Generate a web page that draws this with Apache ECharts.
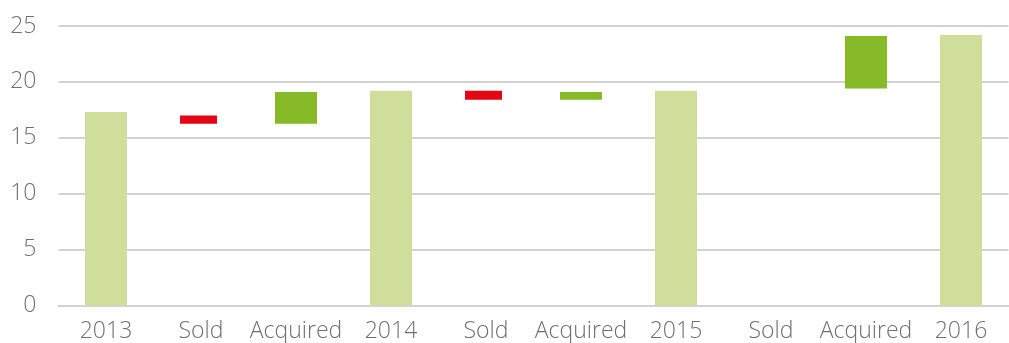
<!DOCTYPE html>
<html>
<head>
<meta charset="utf-8">
<script src="https://cdn.jsdelivr.net/npm/echarts@6/dist/echarts.min.js"></script>
<style>
  html, body { margin: 0; padding: 0; background: #ffffff; }
  #chart { width: 1009px; height: 343px; }
</style>
</head>
<body>
<div id="chart"></div>
<script>
// Categories along the x axis
const categories = ['2013', 'Sold', 'Acquired', '2014', 'Sold', 'Acquired', '2015', 'Sold', 'Acquired', '2016'];

// Year-end totals (null where the column is a movement)
const totals = [17.3, null, null, 19.2, null, null, 19.2, null, null, 24.2];

// Movement ranges: [lower edge, upper edge] per column, null where absent
const soldRanges = [null, [16.25, 17.0], null, null, [18.4, 19.2], null, null, null, null, null];
const acquiredRanges = [null, null, [16.25, 19.1], null, null, [18.4, 19.1], null, null, [19.4, 24.1], null];

// Y axis ticks
const yTicks = [0, 5, 10, 15, 20, 25];

// Floating bars: a transparent base up to the lower edge, then the coloured body
const lowerEdge = ranges => ranges.map(r => (r ? r[0] : null));
const bodyHeight = ranges => ranges.map(r => (r ? +(r[1] - r[0]).toFixed(3) : null));

const labelColor = '#707070';
const gridColor = '#d2d2d2';
const fontFamily = '"Open Sans", "Noto Sans", sans-serif';
const hidden = { color: 'rgba(0,0,0,0)' };

const chart = echarts.init(document.getElementById('chart'), null, { renderer: 'canvas' });
chart.setOption({
  animation: false,
  grid: { left: 58.5, right: 0.5, top: 26, bottom: 37.5, containLabel: false },
  xAxis: {
    type: 'category',
    data: categories,
    axisLine: { show: true, lineStyle: { color: gridColor, width: 2 } },
    axisTick: { show: false },
    axisLabel: { color: labelColor, fontSize: 23, fontFamily: fontFamily, fontWeight: 300, margin: 14, interval: 0 }
  },
  yAxis: {
    type: 'value',
    min: yTicks[0],
    max: yTicks[yTicks.length - 1],
    interval: yTicks[1] - yTicks[0],
    axisLine: { show: false },
    axisTick: { show: false },
    splitLine: { lineStyle: { color: gridColor, width: 2 } },
    axisLabel: { color: labelColor, fontSize: 23, fontFamily: fontFamily, fontWeight: 300, margin: 22, padding: [0, 0, 4, 0] }
  },
  series: [
    // Sold columns: slightly narrower red floating bars
    {
      name: 'SoldBase',
      type: 'bar',
      stack: 'sold',
      barWidth: 37,
      barGap: '-100%',
      data: lowerEdge(soldRanges),
      itemStyle: hidden,
      silent: true
    },
    {
      name: 'Sold',
      type: 'bar',
      stack: 'sold',
      barWidth: 37,
      barGap: '-100%',
      data: bodyHeight(soldRanges),
      itemStyle: { color: '#e30613' }
    },
    // Year totals and acquisitions
    {
      name: 'Total',
      type: 'bar',
      stack: 'main',
      barWidth: 42,
      barGap: '-100%',
      data: totals,
      itemStyle: { color: '#cfdf9b' }
    },
    {
      name: 'AcquiredBase',
      type: 'bar',
      stack: 'main',
      barWidth: 42,
      barGap: '-100%',
      data: lowerEdge(acquiredRanges),
      itemStyle: hidden,
      silent: true
    },
    {
      name: 'Acquired',
      type: 'bar',
      stack: 'main',
      barWidth: 42,
      barGap: '-100%',
      data: bodyHeight(acquiredRanges),
      itemStyle: { color: '#86bb27' }
    }
  ]
});
</script>
</body>
</html>
